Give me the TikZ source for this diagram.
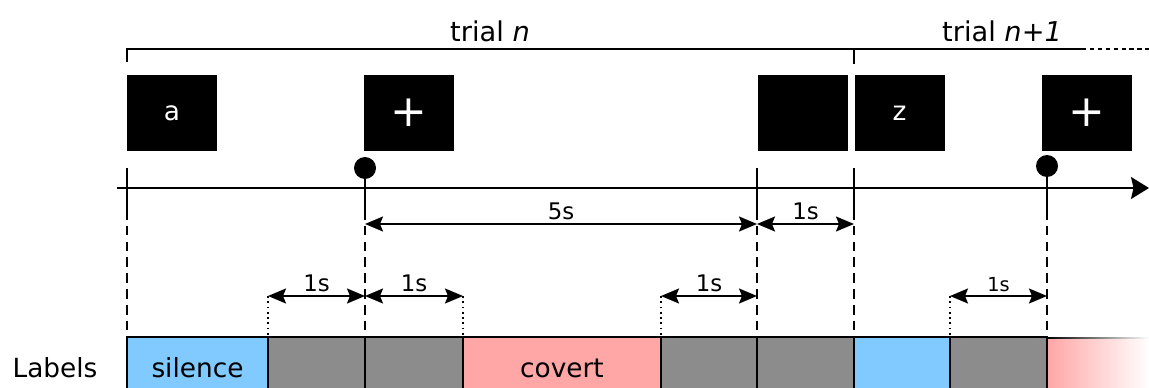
\documentclass[tikz,border=0pt]{standalone}
\usepackage{fontspec}
\setmainfont{DejaVu Sans}
\usetikzlibrary{arrows.meta}
\definecolor{silenceBlue}{RGB}{128,202,255}
\definecolor{covertPink}{RGB}{255,166,166}
\definecolor{restGray}{RGB}{140,140,140}

\begin{document}
\begin{tikzpicture}[x=0.02cm,y=-0.02cm,
    stim/.style={fill=black,minimum width=1.8cm,minimum height=1.52cm,
                 inner sep=0,text=white,font=\fontsize{15}{17}\selectfont},
    cross/.style={stim,font=\fontsize{25}{25}\selectfont},
    cue/.style={circle,fill=black,inner sep=0,minimum size=0.44cm},
    axis/.style={line width=1.1pt,-{Stealth[length=0.36cm,width=0.44cm,inset=0.05cm]}},
    tick/.style={line width=1.1pt},
    life/.style={line width=1pt,dash pattern=on 5.5pt off 3.5pt},
    guide/.style={line width=1pt,dotted},
    dim/.style={line width=1pt,
                {Stealth[length=0.36cm,width=0.3cm,inset=0.06cm]}-{Stealth[length=0.36cm,width=0.3cm,inset=0.06cm]}},
    lbl/.style={font=\fontsize{13}{15}\selectfont,inner sep=2pt},
    seg/.style={draw,line width=0.8pt,minimum height=1.06cm,inner sep=0,
                outer sep=0,text height=16pt,text depth=0pt,
                font=\fontsize{15}{18}\selectfont},
  ]
  \useasboundingbox (0,0) rectangle (1149,388);

  % Trials
  \coordinate (trA) at (127,49);
  \coordinate (trB) at (854,49);
  \coordinate (trEnd) at (1082,49);
  \coordinate (trOpen) at (1149,49);
  \draw[tick] (127,62) -- (trA) -- (trEnd);
  \draw[tick] (trB) -- (854,64);
  \draw[tick,dash pattern=on 2.5pt off 2pt] (trEnd) -- (trOpen);
  \node[font=\fontsize{15.5}{18}\selectfont] (trialN)  at (490,31)  {trial \textit{n}};
  \node[font=\fontsize{15.5}{18}\selectfont] (trialN1) at (1002,31) {trial \textit{n+1}};

  % Stimuli
  \node[stim]  (letA)   at (172,113)  {a};
  \node[cross] (fixA)   at (409,113)  {+};
  \node[stim]  (blank)  at (802.5,113) {};
  \node[stim]  (letZ)   at (899.5,113) {z};
  \node[cross] (fixB)   at (1087,113) {+};

  % Time axis
  \coordinate (tStart) at (117,188);
  \coordinate (tEnd)   at (1149,188);
  \draw[axis] (tStart) -- (tEnd);

  \coordinate (t0) at (127,210);
  \coordinate (t1) at (365,210);
  \coordinate (t2) at (757,210);
  \coordinate (t3) at (854,210);
  \coordinate (t4) at (1047,210);
  \node[cue] (cueA) at (365,168) {};
  \node[cue] (cueB) at (1047,166) {};
  \draw[tick] (127,168) -- (t0);
  \draw[tick] (cueA) -- (t1);
  \draw[tick] (757,168) -- (t2);
  \draw[tick] (854,168) -- (t3);
  \draw[tick] (cueB) -- (t4);

  % Lifelines
  \foreach \t in {t0,t1,t2,t3,t4}
    \draw[life] (\t) -- (\t |- 0,337);

  % Durations
  \draw[dim] (t1 |- 0,224) -- (t2 |- 0,224)
    node[lbl,midway,above] {5s};
  \draw[dim] (t2 |- 0,224) -- (t3 |- 0,224)
    node[lbl,midway,above] {1s};

  \coordinate (g0) at (268,296);
  \coordinate (g1) at (463,296);
  \coordinate (g2) at (661,296);
  \coordinate (g3) at (950,296);
  \foreach \g in {g0,g1,g2,g3}
    \draw[guide] (\g) -- (\g |- 0,337);
  \draw[dim] (g0) -- (g0 -| t1) node[lbl,midway,above] {1s};
  \draw[dim] (g1 -| t1) -- (g1) node[lbl,midway,above] {1s};
  \draw[dim] (g2) -- (g2 -| t2) node[lbl,midway,above] {1s};
  \draw[dim] (g3) -- (g3 -| t4)
    node[lbl,midway,above,font=\fontsize{11}{13}\selectfont] {1s};

  % Labels
  \node[font=\fontsize{15}{18}\selectfont] (lab) at (55,368) {Labels};
  \node[seg,fill=silenceBlue,minimum width=2.82cm] (sil)   at (197.5,363.5) {silence};
  \node[seg,fill=restGray,minimum width=1.94cm]    (preA)  at (316.5,363.5) {};
  \node[seg,fill=restGray,minimum width=1.96cm]    (postA) at (414,363.5)   {};
  \node[seg,fill=covertPink,minimum width=3.96cm]  (cov)   at (562,363.5)   {covert};
  \node[seg,fill=restGray,minimum width=1.92cm]    (endA)  at (709,363.5)   {};
  \node[seg,fill=restGray,minimum width=1.94cm]    (gapA)  at (805.5,363.5) {};
  \node[seg,fill=silenceBlue,minimum width=1.92cm] (silB)  at (902,363.5)   {};
  \node[seg,fill=restGray,minimum width=1.94cm]    (preB)  at (998.5,363.5) {};
  \node[seg,draw=none,left color=covertPink,right color=white,
        minimum width=2.04cm] (covB) at (1098,363.5) {};
  \shade[left color=black,right color=white]
    (covB.north west) rectangle ([yshift=-0.8pt]covB.north east);
  \draw[line width=0.8pt] (covB.north west) -- (covB.south west);

\end{tikzpicture}
\end{document}
